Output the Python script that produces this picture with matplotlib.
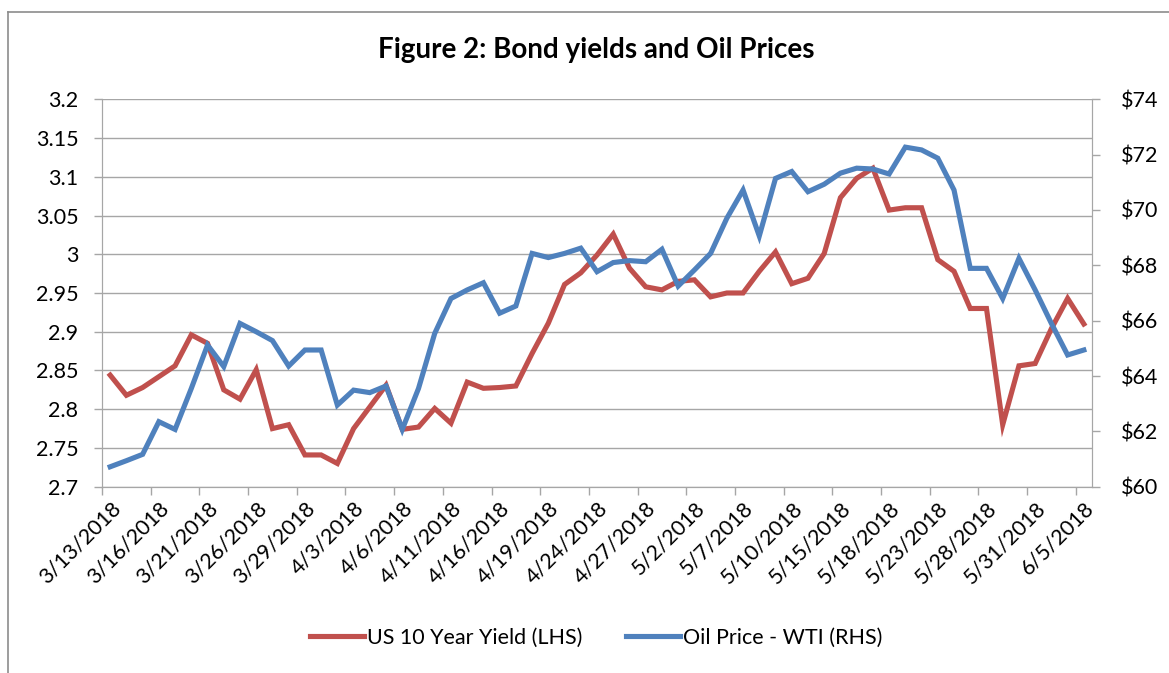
import numpy as np
import pandas as pd
import matplotlib
matplotlib.use('Agg')
import matplotlib.pyplot as plt
from matplotlib.lines import Line2D

plt.rcParams['font.family'] = ['Lato', 'DejaVu Sans']

# fechas (dias habiles 13 mar - 5 jun 2018)
dates = pd.bdate_range('2018-03-13', '2018-06-05')
date_labels = [f"{d.month}/{d.day}/{d.year}" for d in dates]

# rendimiento bono 10 años (eje izquierdo)
yield_10y = [2.844, 2.818, 2.828, 2.842, 2.856, 2.896, 2.885, 2.825, 2.813, 2.851,
             2.775, 2.780, 2.741, 2.741, 2.730, 2.775, 2.803, 2.831, 2.774, 2.777,
             2.801, 2.782, 2.835, 2.827, 2.828, 2.830, 2.872, 2.911, 2.961, 2.976,
             2.999, 3.026, 2.982, 2.958, 2.954, 2.965, 2.967, 2.945, 2.950, 2.950,
             2.978, 3.003, 2.962, 2.969, 3.001, 3.073, 3.098, 3.111, 3.057, 3.060,
             3.060, 2.993, 2.978, 2.930, 2.930, 2.780, 2.856, 2.859, 2.904, 2.943, 2.910]

# precio petroleo WTI (eje derecho)
oil_wti = [60.72, 60.94, 61.17, 62.35, 62.07, 63.55, 65.12, 64.34, 65.90, 65.60,
           65.28, 64.36, 64.94, 64.94, 62.95, 63.49, 63.40, 63.64, 62.07, 63.55,
           65.54, 66.80, 67.11, 67.37, 66.27, 66.53, 68.43, 68.28, 68.43, 68.62,
           67.77, 68.10, 68.17, 68.13, 68.58, 67.25, 67.83, 68.43, 69.70, 70.72,
           69.06, 71.14, 71.39, 70.66, 70.93, 71.33, 71.51, 71.48, 71.30, 72.27,
           72.17, 71.87, 70.72, 67.89, 67.89, 66.80, 68.25, 67.11, 65.90, 64.76, 64.94]

left_ticks = [2.7, 2.75, 2.8, 2.85, 2.9, 2.95, 3.0, 3.05, 3.1, 3.15, 3.2]
right_ticks = [60, 62, 64, 66, 68, 70, 72, 74]

red = '#C0504D'
blue = '#4F81BD'
grid_col = '#A6A6A6'
fs = 15.5

fig = plt.figure(figsize=(11.69, 6.73), dpi=100)
ax = fig.add_axes([0.0873, 0.2768, 0.8468, 0.5757])
ax2 = ax.twinx()

x = np.arange(len(dates))
ax.plot(x, yield_10y, color=red, lw=3.7, solid_joinstyle='miter', label='US 10 Year Yield (LHS)')
ax2.plot(x, oil_wti, color=blue, lw=3.7, solid_joinstyle='miter', label='Oil Price - WTI (RHS)')

ax.set_xlim(-0.5, len(dates) - 0.5)
ax.set_ylim(2.7, 3.2)
ax2.set_ylim(60, 74)

ax.set_yticks(left_ticks)
ax.set_yticklabels([f"{v:g}" for v in left_ticks])
ax2.set_yticks(right_ticks)
ax2.set_yticklabels([f"${v}" for v in right_ticks])

# etiquetas cada 3 dias, marcas entre categorias
lab_pos = x[::3]
ax.set_xticks(lab_pos)
ax.set_xticklabels([date_labels[i] for i in lab_pos], rotation=45, ha='right',
                   va='top', rotation_mode='anchor')
ax.set_xticks(np.arange(-0.5, len(dates), 3), minor=True)
ax.tick_params(axis='x', which='major', length=0, pad=8)
ax.tick_params(axis='x', which='minor', length=6, width=1, color=grid_col, direction='out')

ax.grid(axis='y', color=grid_col, lw=1)
ax.set_axisbelow(True)

for a in (ax, ax2):
    a.spines['top'].set_visible(False)
    for s in ('left', 'right', 'bottom'):
        a.spines[s].set_color(grid_col)
    a.tick_params(axis='y', length=6, width=1, color=grid_col, labelsize=fs, pad=11)
    a.tick_params(axis='x', labelsize=fs)
ax2.tick_params(axis='y', pad=15)

fig.text(0.51, 0.926, 'Figure 2: Bond yields and Oil Prices', ha='center', va='center',
         fontsize=20, fontweight='bold')

h1, l1 = ax.get_legend_handles_labels()
h2, l2 = ax2.get_legend_handles_labels()
fig.legend(h1 + h2, l1 + l2, loc='center', bbox_to_anchor=(0.51, 0.052), ncol=2,
           frameon=False, fontsize=fs, handlelength=2.5, handletextpad=0.15,
           columnspacing=2.0)

# borde del grafico (recortado a la derecha y abajo)
fig.add_artist(Line2D([8 / 1169, 1], [1 - 12 / 673, 1 - 12 / 673], color='#8C8C8C', lw=1.2))
fig.add_artist(Line2D([8 / 1169, 8 / 1169], [0, 1 - 12 / 673], color='#8C8C8C', lw=1.2))

fig.savefig('out.png', dpi=100)
